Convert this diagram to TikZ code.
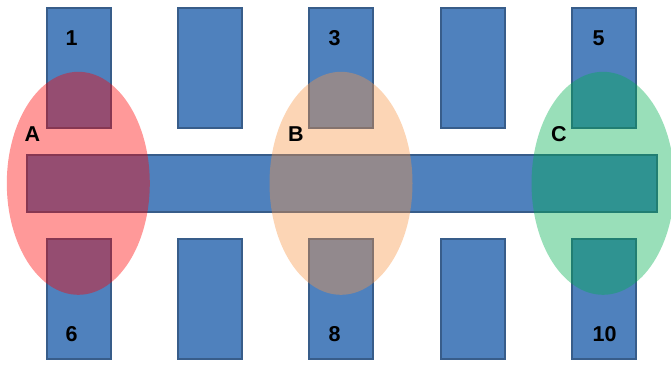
\documentclass[tikz,border=0pt]{standalone}
\usepackage{fontspec}
\usetikzlibrary{shapes.geometric}
\setmainfont{Liberation Sans}
\definecolor{padfill}{HTML}{4F81BD}
\definecolor{padline}{HTML}{385D8A}
\definecolor{zoneA}{HTML}{FF0000}
\definecolor{zoneB}{HTML}{F79646}
\definecolor{zoneC}{HTML}{00B050}
\begin{document}
\begin{tikzpicture}[x=1pt,y=-1pt,
  pad/.style={draw=padline,fill=padfill,line width=2pt,minimum width=64pt,minimum height=120pt,inner sep=0pt,outer sep=0pt},
  barbox/.style={draw=padline,fill=padfill,line width=2pt,minimum width=630pt,minimum height=57pt,inner sep=0pt},
  zone/.style={ellipse,minimum width=143pt,minimum height=223pt,inner sep=0pt,fill opacity=0.4,draw=none},
  lbl/.style={anchor=base west,inner sep=0pt,font=\fontsize{21.5}{24}\selectfont\bfseries,text=black}]
\path[use as bounding box] (0,0) rectangle (671,364);
% top pads
\node[pad] (p1) at (78.5,68) {};
\node[pad] (p2) at (210,68) {};
\node[pad] (p3) at (341,68) {};
\node[pad] (p4) at (473,68) {};
\node[pad] (p5) at (604,68) {};
% bottom pads
\node[pad] (p6) at (78.5,298.5) {};
\node[pad] (p7) at (210,298.5) {};
\node[pad] (p8) at (341,298.5) {};
\node[pad] (p9) at (473,298.5) {};
\node[pad] (p10) at (604,298.5) {};
% bar
\node[barbox] (bar) at (341.5,183.5) {};
% zones
\node[zone,fill=zoneA] (zA) at (78.3,183.3) {};
\node[zone,fill=zoneB] (zB) at (341,183.3) {};
\node[zone,fill=zoneC] (zC) at (603,183.3) {};
% labels
\node[lbl] (t1) at (65.5,45) {1};
\node[lbl] (t3) at (328.5,45) {3};
\node[lbl] (t5) at (592.5,45) {5};
\node[lbl] (t6) at (65.5,341) {6};
\node[lbl] (t8) at (328.5,341) {8};
\node[lbl] (t10) at (592.5,341) {10};
\node[lbl] (tA) at (24.5,141.5) {A};
\node[lbl] (tB) at (288,141.5) {B};
\node[lbl] (tC) at (551,141.5) {C};
\end{tikzpicture}
\end{document}
